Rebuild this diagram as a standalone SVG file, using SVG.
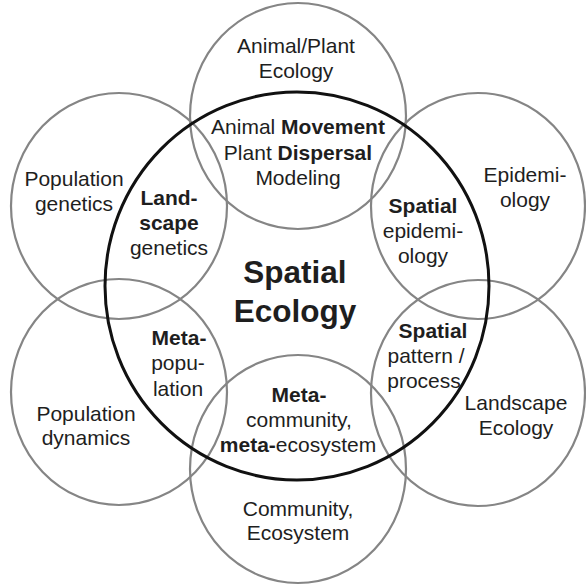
<svg xmlns="http://www.w3.org/2000/svg" width="586" height="585" viewBox="0 0 586 585">
<style>
.outer{fill:none;stroke:#858585;stroke-width:2.2}
.core{fill:none;stroke:#111;stroke-width:3}
text{font-family:"Liberation Sans",Arial,sans-serif;font-size:21px;fill:#1e1e1e;text-anchor:middle}
.b{font-weight:bold}
.big{font-size:31.5px;font-weight:bold}
</style>
<rect width="586" height="585" fill="#fff"/>
<g id="animal-plant-ecology">
<ellipse class="outer" cx="298" cy="116" rx="108" ry="113"/>
<text x="296" y="53">Animal/Plant</text>
<text x="296" y="78">Ecology</text>
</g>
<g id="population-genetics">
<ellipse class="outer" cx="119" cy="206" rx="108" ry="113"/>
<text x="74" y="186">Population</text>
<text x="74" y="211">genetics</text>
</g>
<g id="epidemiology">
<ellipse class="outer" cx="478" cy="206" rx="107" ry="113"/>
<text x="525" y="182">Epidemi-</text>
<text x="525" y="207">ology</text>
</g>
<g id="population-dynamics">
<ellipse class="outer" cx="119" cy="392" rx="108" ry="113"/>
<text x="86" y="421">Population</text>
<text x="86" y="445">dynamics</text>
</g>
<g id="landscape-ecology">
<ellipse class="outer" cx="478" cy="393" rx="107" ry="113"/>
<text x="516" y="410">Landscape</text>
<text x="516" y="435">Ecology</text>
</g>
<g id="community-ecosystem">
<ellipse class="outer" cx="298" cy="469" rx="108" ry="114"/>
<text x="298" y="516">Community,</text>
<text x="298" y="540">Ecosystem</text>
</g>
<g id="spatial-ecology">
<ellipse class="core" cx="297" cy="286" rx="192" ry="194"/>
<text class="big" x="295" y="283">Spatial</text>
<text class="big" x="295" y="322">Ecology</text>
</g>
<g id="movement-dispersal">
<text x="298" y="134">Animal <tspan class="b">Movement</tspan></text>
<text x="298" y="160">Plant <tspan class="b">Dispersal</tspan></text>
<text x="298" y="185">Modeling</text>
</g>
<g id="landscape-genetics">
<text class="b" x="169" y="205">Land-</text>
<text class="b" x="169" y="230">scape</text>
<text x="169" y="255">genetics</text>
</g>
<g id="spatial-epidemiology">
<text class="b" x="423" y="213">Spatial</text>
<text x="423" y="238">epidemi-</text>
<text x="423" y="263">ology</text>
</g>
<g id="metapopulation">
<text class="b" x="179" y="345">Meta-</text>
<text x="178" y="370">popu-</text>
<text x="178" y="396">lation</text>
</g>
<g id="spatial-pattern-process">
<text class="b" x="433" y="338">Spatial</text>
<text x="426" y="363">pattern /</text>
<text x="424" y="388">process</text>
</g>
<g id="metacommunity">
<text class="b" x="299" y="402">Meta-</text>
<text x="299" y="427">community,</text>
<text x="298" y="452"><tspan class="b">meta-</tspan>ecosystem</text>
</g>
<g id="connectors"></g>
</svg>
